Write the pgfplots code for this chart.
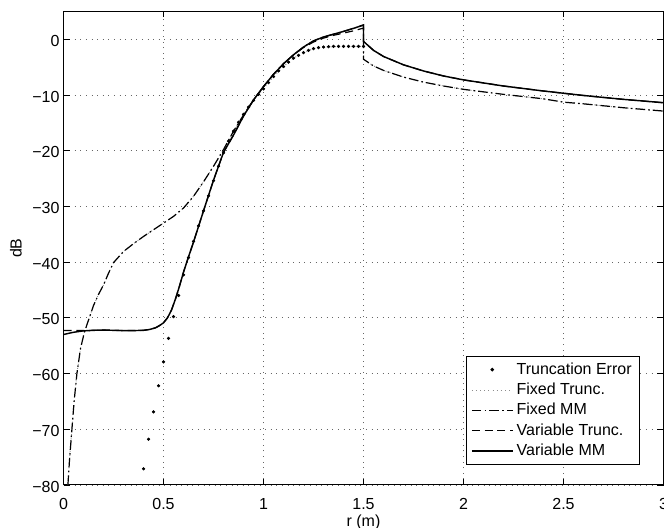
\documentclass[border=0pt]{standalone}
\usepackage{fontspec}
\setmainfont{Liberation Sans}
\usepackage{pgfplots}
\pgfplotsset{compat=1.18}
\usetikzlibrary{calc}
\begin{document}
\begin{tikzpicture}
\begin{axis}[
  scale only axis, width=375pt, height=296pt,
  xmin=0, xmax=3, ymin=-80, ymax=5,
  xtick={0,0.5,1,1.5,2,2.5,3},
  xticklabels={0,0.5,1,1.5,2,2.5,3},
  ytick={-80,-70,-60,-50,-40,-30,-20,-10,0},
  yticklabels={−80,−70,−60,−50,−40,−30,−20,−10,0},
  /pgf/number format/assume math mode=true,
  tick align=inside,
  major tick length=3.8pt,
  tick style={black, line width=0.5pt},
  axis line style={line width=0.6pt},
  grid=major,
  grid style={black!60, line width=0.5pt, dash pattern=on 0.6pt off 2.9pt},
  xticklabel style={yshift=-4.7pt},
  yticklabel style={xshift=1pt, yshift=-1pt},
  xlabel={r (m)}, ylabel={dB},
  xlabel style={at={(axis description cs:0.5,-0.08)}, anchor=center},
  ylabel style={at={(axis description cs:-0.0792,0.5)}, anchor=center},
  legend style={at={(axis description cs:0.961,0.042)}, anchor=south east,
    draw=black, line width=0.6pt, font=\normalsize, row sep=0pt},
  legend cell align=left,
  legend image code/.code={\draw[mark repeat=2,mark phase=2] plot coordinates {(0cm,0cm) (0.45cm,0cm) (0.9cm,0cm)};},
]
% Truncation Error
\addplot[only marks, mark=*, mark size=0.8pt, black] coordinates {
(0.4,-77.1)(0.425,-71.8)(0.45,-66.9)(0.475,-62.2)(0.5,-57.9)(0.525,-53.7)
(0.55,-49.8)(0.575,-46.0)(0.6,-42.3)(0.625,-39.2)(0.65,-36.3)(0.675,-33.5)
(0.7,-30.8)(0.725,-28.1)(0.75,-25.4)(0.775,-22.8)(0.8,-20.4)(0.825,-18.3)
(0.85,-16.5)(0.875,-14.9)(0.9,-13.5)(0.925,-12.2)(0.95,-11.0)(0.975,-9.9)
(1.0,-8.9)(1.025,-7.8)(1.05,-6.7)(1.075,-5.7)(1.1,-4.9)(1.125,-4.1)
(1.15,-3.4)(1.175,-2.9)(1.2,-2.4)(1.225,-2.0)(1.25,-1.7)(1.275,-1.5)
(1.3,-1.4)(1.325,-1.35)(1.35,-1.3)(1.375,-1.3)(1.4,-1.3)(1.425,-1.3)
(1.45,-1.3)(1.475,-1.3)(1.5,-1.3)
};
\addlegendentry{Truncation Error}
% Fixed Trunc.
\addplot[black!45, line width=0.6pt, dash pattern=on 0.6pt off 2pt] coordinates {
(0.022,-80)(0.03,-75.5)(0.042,-70)(0.053,-65)(0.067,-60)(0.085,-55.5)
(0.105,-52.5)(0.129,-50)(0.15,-47.8)(0.175,-45.8)(0.2,-44.1)(0.225,-42.0)
(0.25,-40.1)(0.3,-38.1)(0.35,-36.7)(0.4,-35.4)(0.45,-34.2)(0.5,-33.0)
(0.55,-31.8)(0.6,-30.3)(0.65,-28.2)(0.7,-25.6)(0.75,-22.8)(0.8,-19.8)
(0.85,-16.5)(0.9,-13.6)(0.95,-10.9)(1.0,-8.9)(1.05,-6.7)(1.1,-4.9)
(1.15,-3.4)(1.2,-2.4)(1.25,-1.7)(1.3,-1.4)(1.4,-1.3)(1.5,-1.3)
(1.5,-3.6)(1.55,-4.8)(1.6,-5.6)(1.7,-6.8)(1.8,-7.7)(1.9,-8.4)(2.0,-9.0)
(2.2,-9.9)(2.4,-10.7)(2.5,-11.3)(2.6,-11.6)(2.8,-12.3)(3.0,-12.9)
};
\addlegendentry{Fixed Trunc.}
% Fixed MM
\addplot[black, line width=0.75pt, dash pattern=on 6pt off 2pt on 1pt off 2pt] coordinates {
(0.022,-80)(0.03,-75.5)(0.042,-70)(0.053,-65)(0.067,-60)(0.085,-55.5)
(0.105,-52.5)(0.129,-50)(0.15,-47.8)(0.175,-45.8)(0.2,-44.1)(0.225,-42.0)
(0.25,-40.1)(0.3,-38.1)(0.35,-36.7)(0.4,-35.4)(0.45,-34.2)(0.5,-33.0)
(0.55,-31.8)(0.6,-30.3)(0.65,-28.2)(0.7,-25.6)(0.75,-22.8)(0.8,-19.8)
(0.85,-16.5)(0.9,-13.6)(0.95,-10.9)(1.0,-8.5)(1.05,-6.3)(1.1,-4.4)
(1.15,-2.8)(1.2,-1.4)(1.25,-0.3)(1.3,0.4)(1.35,0.9)(1.4,1.4)(1.45,1.95)(1.5,2.55)
(1.5,-3.6)(1.55,-4.8)(1.6,-5.6)(1.7,-6.8)(1.8,-7.7)(1.9,-8.4)(2.0,-9.0)
(2.2,-9.9)(2.4,-10.7)(2.5,-11.3)(2.6,-11.6)(2.8,-12.3)(3.0,-12.9)
};
\addlegendentry{Fixed MM}
% Variable Trunc.
\addplot[black, line width=0.75pt, dash pattern=on 5pt off 3pt] coordinates {
(0,-52.3)(0.05,-52.3)(0.1,-52.3)(0.15,-52.25)(0.2,-52.2)(0.25,-52.25)
(0.3,-52.3)(0.35,-52.3)(0.4,-52.25)(0.43,-52.1)(0.46,-51.8)(0.48,-51.4)
(0.5,-50.9)(0.52,-50.0)(0.54,-48.6)(0.56,-46.6)(0.58,-44.3)(0.6,-41.8)
(0.62,-39.6)(0.65,-36.4)(0.7,-30.8)(0.75,-25.3)(0.8,-20.3)(0.85,-17.2)
(0.9,-13.8)(0.95,-10.9)(1.0,-8.5)(1.05,-6.3)(1.1,-4.4)(1.15,-2.8)
(1.2,-1.5)(1.25,-0.5)(1.3,0.2)(1.35,0.7)(1.4,1.1)(1.45,1.5)(1.5,2.0)
(1.5,-0.4)(1.55,-2.0)(1.6,-3.1)(1.7,-4.6)(1.8,-5.7)(1.9,-6.6)(2.0,-7.3)
(2.2,-8.4)(2.4,-9.3)(2.5,-9.7)(2.6,-10.1)(2.8,-10.8)(3.0,-11.4)
};
\addlegendentry{Variable Trunc.}
% Variable MM
\addplot[black, line width=0.9pt] coordinates {
(0,-53.0)(0.05,-52.6)(0.1,-52.35)(0.15,-52.25)(0.2,-52.2)(0.25,-52.25)
(0.3,-52.3)(0.35,-52.3)(0.4,-52.25)(0.43,-52.1)(0.46,-51.8)(0.48,-51.4)
(0.5,-50.9)(0.52,-50.0)(0.54,-48.6)(0.56,-46.6)(0.58,-44.3)(0.6,-41.8)
(0.62,-39.6)(0.65,-36.4)(0.7,-30.8)(0.75,-25.3)(0.8,-20.3)(0.85,-17.2)
(0.9,-13.8)(0.95,-10.9)(1.0,-8.5)(1.05,-6.3)(1.1,-4.4)(1.15,-2.8)
(1.2,-1.4)(1.25,-0.3)(1.3,0.4)(1.35,0.9)(1.4,1.4)(1.45,1.95)(1.5,2.55)
(1.5,-0.4)(1.55,-2.0)(1.6,-3.1)(1.7,-4.6)(1.8,-5.7)(1.9,-6.6)(2.0,-7.3)
(2.2,-8.4)(2.4,-9.3)(2.5,-9.7)(2.6,-10.1)(2.8,-10.8)(3.0,-11.4)
};
\addlegendentry{Variable MM}
\end{axis}
\pgfresetboundingbox
\path ($(current axis.south west)+(-39.7pt,-26.9pt)$) rectangle ($(current axis.north east)+(0.3pt,7.1pt)$);
\end{tikzpicture}
\end{document}
